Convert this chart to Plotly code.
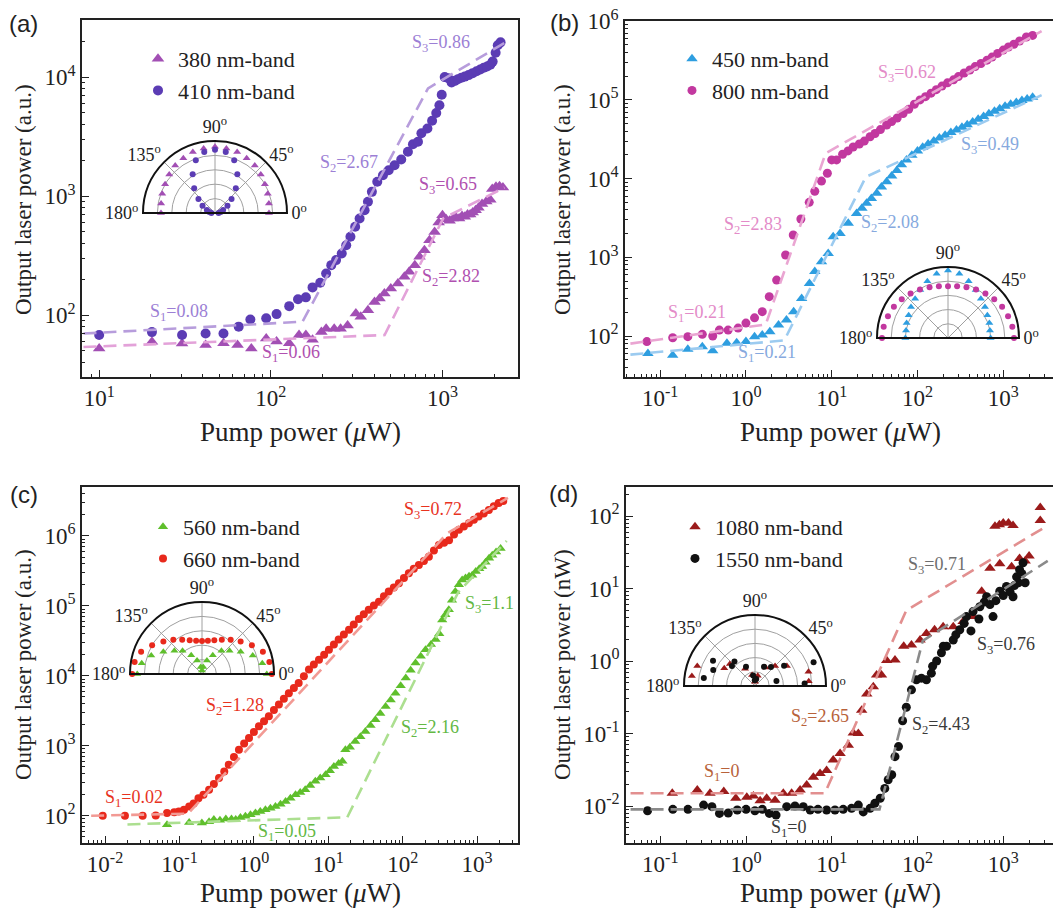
import plotly.graph_objects as go

W, H = 1053, 916
SERIF = "Liberation Serif, Times New Roman, serif"
SANS = "Liberation Sans, Arial, sans-serif"

# ---------------- (a) data ----------------
a_380 = [(10,52.5),(20.3,59.7),(30.4,57.8),(41.7,56),(53,58),(64,56),(77,52.5),(94,63.7),(108,60),(128,58),
         (146,68),(160,68),(175,62),(197,72),(210,77),(234,77),(255,77),(280,82),(313,103),(334,97),(368,110),
         (402,129),(430,138),(459,152),(500,167),(550,184),(600,210),(640,231),(690,263),(735,310),(785,351),
         (840,426),(900,500),(950,600),(1000,690),(1050,640),(1100,620),(1150,650),(1200,660),(1250,650),
         (1300,680),(1350,670),(1400,700),(1450,700),(1500,730),(1560,760),(1620,800),(1700,860),(1800,900),
         (1900,930),(1950,1150),(2050,1200),(2150,1210),(2250,1180)]
a_410 = [(10,68),(20.3,72),(30.4,68),(41.7,70),(53,70),(65,80),(76,92),(94,94),(108,102),(128,119),(144,136),
         (160,141),(175,171),(194,187),(210,224),(225,263),(240,290),(259,330),(275,387),(291,455),(310,552),
         (329,649),(352,762),(368,896),(388,1086),(417,1320),(450,1500),(486,1650),(526,1820),(575,2030),
         (629,2360),(673,2730),(720,2860),(754,3370),(817,3700),(870,4300),(920,5000),(960,5800),(990,7100),
         (1030,10000),(1080,9800),(1130,9000),(1180,9300),(1230,9600),(1290,9900),(1350,10100),(1420,10400),
         (1500,10800),(1580,11200),(1660,11600),(1740,12000),(1820,12300),(1900,12700),(1960,13500),
         (2040,16000),(2100,18500),(2180,19600)]
a_fit380_x = [8.1, 460, 1010, 2300]
a_fit380_y = [54, 68, 650, 1180]
a_fit410_x = [8.1, 153, 824, 2300]
a_fit410_y = [70, 88, 8040, 19400]

# ---------------- (b) data ----------------
b_450 = [(0.072,60),(0.14,57),(0.21,68),(0.31,73),(0.41,65),(0.6,81),(0.78,82),(1.0,85),(1.26,98),(1.55,103),
         (1.9,113),(2.4,138),(2.97,160),(3.6,204),(4.46,300),(5.5,466),(6.35,660),(7.6,880),(9.1,1120),
         (10.4,1830),(12.5,2000),(15.6,2700),(19.5,3600),(22.5,4200),(25.5,4850),(29,5600),(33.5,6500),
         (38,7800),(43.7,9100),(50,10800),(57.4,12700),(65,15000),(74.5,17300),(86,19800),(100,22500),
         (115,25000),(133,27500),(155,30000),(180,32800),(210,35500),(245,38500),(285,41500),(330,45000),
         (380,48500),(440,52500),(510,57000),(590,61500),(680,66500),(790,72000),(910,77500),(1050,83000),
         (1220,88000),(1420,93000),(1650,98000),(1900,103000),(2200,108000)]
b_800 = [(0.07,85),(0.14,95),(0.21,98),(0.31,105),(0.41,100),(0.49,119),(0.62,119),(0.81,126),(1.0,146),
         (1.26,170),(1.55,204),(1.87,316),(2.28,513),(2.9,1070),(3.56,1920),(4.37,3070),(5.47,5000),
         (6.35,6900),(7.6,9300),(8.9,11700),(10.0,17300),(11.4,17300),(13.4,20400),(15.5,22500),(17.8,25200),
         (21,27500),(24,30000),(28,34000),(32,37500),(37,42000),(43.7,48000),(50,53000),(58,59000),(68,67000),
         (79,76000),(92,88000),(107,100000),(124,110000),(144,122000),(166,135000),(193,150000),(224,165000),
         (263,180000),(300,198000),(350,220000),(408,240000),(470,265000),(550,290000),(646,320000),
         (740,350000),(860,390000),(1000,430000),(1150,470000),(1330,510000),(1550,560000),(1860,630000),
         (2200,660000)]
b_fit450_x = [0.045, 2.8, 25, 2800]
b_fit450_y = [58, 88, 10500, 115000]
b_fit800_x = [0.045, 1.7, 8.5, 2800]
b_fit800_y = [80, 140, 21000, 750000]

# ---------------- (c) data ----------------
c_560 = [(0.068,74),(0.135,80),(0.2,79),(0.25,82),(0.29,88),(0.35,86),(0.42,90),(0.5,90),(0.57,88),(0.66,94),
         (0.77,98),(0.9,103),(1.05,109),(1.22,115),(1.43,122),(1.67,128),(1.95,135),(2.28,146),(2.67,160),
         (3.1,178),(3.63,200),(4.2,215),(4.9,235),(5.7,270),(6.7,310),(7.8,345),(9.2,385),(10.5,440),
         (11.9,505),(13.8,560),(15.5,600),(17,875),(19.5,950),(23,1150),(27,1350),(31.5,1600),(37,1950),
         (43,2350),(50,2900),(59,3650),(69,4500),(80,5650),(94,7200),(110,9300),(128,12000),(149,15200),
         (175,19000),(203,23700),(240,28000),(277,33000),(310,40000),(340,63000),(375,75000),(417,88000),
         (460,120000),(510,160000),(570,200000),(630,235000),(700,250000),(780,265000),(860,275000),
         (960,310000),(1070,340000),(1170,365000),(1300,420000),(1450,480000),(1600,530000),(1800,590000),
         (2070,660000)]
c_660 = [(0.0093,100),(0.0185,100),(0.032,100),(0.048,101),(0.068,109),(0.085,112),(0.098,115),(0.115,122),
         (0.135,135),(0.155,150),(0.18,178),(0.21,200),(0.25,235),(0.29,285),(0.34,345),(0.4,430),(0.46,537),
         (0.54,690),(0.63,875),(0.74,1080),(0.86,1290),(1.0,1580),(1.17,1900),(1.37,2250),(1.59,2650),
         (1.86,3250),(2.17,3880),(2.53,4700),(2.95,5650),(3.45,6700),(4.0,7900),(4.7,9900),(5.5,12300),
         (6.4,14500),(7.5,17000),(8.8,20000),(10.2,23700),(11.9,28000),(13.8,33000),(16.2,39000),(19,45500),
         (22,54000),(25.8,65000),(30,76000),(35,88000),(41,101000),(48,115000),(56,137000),(65,160000),
         (76,183000),(89,210000),(104,250000),(121,293000),(141,340000),(165,385000),(193,440000),
         (225,505000),(263,620000),(307,740000),(360,800000),(420,870000),(490,1050000),(570,1230000),
         (665,1370000),(775,1520000),(905,1700000),(1050,1900000),(1230,2100000),(1440,2350000),
         (1680,2650000),(1950,2950000),(2250,3150000)]
c_fit560_x = [0.02, 18, 560, 2500]
c_fit560_y = [75, 95, 158000, 850000]
c_fit660_x = [0.0065, 0.13, 400, 2600]
c_fit660_y = [100, 107, 1100000, 3500000]

# ---------------- (d) data ----------------
d_1080 = [(0.138,0.015),(0.27,0.0166),(0.38,0.015),(0.55,0.0158),(0.76,0.0128),(1.02,0.0132),(1.22,0.0137),
          (1.46,0.0118),(1.74,0.0128),(2.18,0.012),(2.72,0.015),(3.4,0.015),(4.27,0.0166),(5.1,0.0195),
          (6.1,0.025),(7.3,0.028),(8.7,0.031),(10.4,0.043),(12.5,0.053),(15.6,0.069),(17.8,0.102),(20.4,0.1),
          (22.3,0.21),(25.6,0.35),(30.5,0.44),(33.3,0.64),(38,0.64),(43.7,1.02),(54.6,1.03),(69,1.6),(85,1.66),
          (107,1.95),(127,2.4),(158,2.7),(199,2.97),(261,2.97),(340,3.5),(444,4.1),(560,9.2),(700,19),
          (800,72),(900,76),(1000,80),(1150,80),(1300,74),(910,22),(1250,20),(1550,26),(1800,24),(2000,28),
          (2700,131),(2700,87)]
d_1550 = [(0.071,0.0086),(0.14,0.009),(0.21,0.009),(0.32,0.0103),(0.4,0.0098),(0.49,0.0079),(0.62,0.008),
          (0.79,0.0088),(1.0,0.009),(1.27,0.0086),(1.55,0.009),(1.87,0.0079),(2.24,0.0075),(2.98,0.0098),
          (3.72,0.01),(4.65,0.0098),(5.6,0.0088),(6.9,0.009),(8.7,0.0088),(10.9,0.0088),(13.6,0.009),
          (17,0.0093),(20.4,0.0103),(23.3,0.0083),(28,0.0093),(31.8,0.0109),(36.7,0.0128),(41.5,0.0175),
          (45.5,0.023),(50,0.027),(54.6,0.048),(60,0.066),(67,0.15),(74,0.23),(85,0.4),(97,0.55),(111,0.58),
          (127,0.55),(145,0.68),(150,0.85),(167,1.0),(190,1.3),(200,1.6),(218,1.6),(261,1.95),(280,2.3),
          (311,2.7),(350,3.3),(372,4.1),(420,2.6),(444,4.8),(520,3.8),(533,5.6),(600,6.5),(640,7.7),(700,6),
          (760,4.1),(820,6.8),(910,9.2),(1000,8),(1090,10.7),(1200,9),(1300,7.7),(1350,11),(1430,14.5),
          (1500,12),(1550,18.2),(1650,16),(1700,22.6),(1800,12)]
d_fit1080_x = [0.045, 8.3, 74, 3300]
d_fit1080_y = [0.015, 0.015, 5.0, 74]
d_fit1550_x = [0.045, 36, 115, 3300]
d_fit1550_y = [0.009, 0.009, 1.9, 24]

# ---------------- polar insets (angle deg, relative intensity) ----------------
pol_theta = [0, 10, 20, 30, 40, 50, 60, 70, 80, 90, 100, 110, 120, 130, 140, 150, 160, 170, 180]
pa_380 = [0.75, 0.76, 0.78, 0.8, 0.83, 0.86, 0.88, 0.9, 0.91, 0.92, 0.91, 0.9, 0.88, 0.86, 0.83, 0.8, 0.78, 0.76, 0.75]
pa_410 = [0.05, 0.08, 0.12, 0.2, 0.3, 0.45, 0.62, 0.78, 0.86, 0.88, 0.86, 0.78, 0.62, 0.45, 0.3, 0.2, 0.12, 0.08, 0.05]
pb_450 = [0.6, 0.6, 0.62, 0.64, 0.68, 0.72, 0.78, 0.85, 0.92, 0.95, 0.92, 0.85, 0.78, 0.72, 0.68, 0.64, 0.62, 0.6, 0.6]
pb_800 = [0.93, 0.92, 0.9, 0.88, 0.85, 0.82, 0.79, 0.76, 0.74, 0.73, 0.74, 0.76, 0.79, 0.82, 0.85, 0.88, 0.9, 0.92, 0.93]
pc_560 = [0.9, 0.85, 0.75, 0.62, 0.5, 0.42, 0.3, 0.2, 0.1, 0.05, 0.1, 0.2, 0.3, 0.42, 0.5, 0.62, 0.75, 0.85, 0.9]
pc_660 = [0.97, 0.95, 0.9, 0.8, 0.7, 0.62, 0.55, 0.5, 0.47, 0.46, 0.47, 0.5, 0.55, 0.62, 0.7, 0.8, 0.9, 0.95, 0.97]
pd_1080_t = [5, 15, 32, 45, 60, 75, 90, 105, 120, 139, 150, 161, 171]
pd_1080_r = [0.76, 0.78, 0.53, 0.4, 0.3, 0.15, 0.06, 0.16, 0.28, 0.47, 0.5, 0.86, 0.9]
pd_1550_t = [3, 13, 22, 35, 50, 65, 80, 92, 100, 115, 130, 139, 149, 159, 171]
pd_1550_r = [0.7, 0.31, 0.89, 0.5, 0.35, 0.3, 0.1, 0.08, 0.15, 0.3, 0.45, 0.43, 0.69, 0.63, 0.73]
pol_ticks = [0, 45, 90, 135, 180]
pol_labels = ["0<sup>o</sup>", "45<sup>o</sup>", "90<sup>o</sup>", "135<sup>o</sup>", "180<sup>o</sup>"]

# ---------------- tick labels ----------------
def dec_label(p):
    return "10<sup>%d</sup>" % p

a_xt = [1, 2, 3]; a_yt = [2, 3, 4]
b_xt = [-1, 0, 1, 2, 3]; b_yt = [2, 3, 4, 5, 6]
c_xt = [-2, -1, 0, 1, 2, 3]; c_yt = [2, 3, 4, 5, 6]
d_xt = [-1, 0, 1, 2, 3]; d_yt = [-2, -1, 0, 1, 2]

fig = go.Figure()


def P(px, py):
    return px / W, 1 - py / H


def series(pairs, name, color, symbol, size, n):
    xs, ys = zip(*pairs)
    sfx = "" if n == 1 else str(n)
    fig.add_trace(go.Scatter(x=list(xs), y=list(ys), mode="markers", name=name,
                             marker=dict(color=color, symbol=symbol, size=size, line=dict(width=0)),
                             xaxis="x" + sfx, yaxis="y" + sfx, legend="legend" + sfx))


def fit(xs, ys, color, n):
    sfx = "" if n == 1 else str(n)
    fig.add_trace(go.Scatter(x=xs, y=ys, mode="lines", showlegend=False,
                             line=dict(color=color, width=2.6, dash="13px,7px"),
                             xaxis="x" + sfx, yaxis="y" + sfx))


def polar(theta, r, color, symbol, size, n):
    sfx = "" if n == 1 else str(n)
    fig.add_trace(go.Scatterpolar(theta=theta, r=r, mode="markers", showlegend=False,
                                  marker=dict(color=color, symbol=symbol, size=size, line=dict(width=0)),
                                  subplot="polar" + sfx))


# (a)
series(a_380, "380 nm-band", "#a24fb4", "triangle-up", 11, 1)
series(a_410, "410 nm-band", "#5b3cb4", "circle", 10, 1)
fit(a_fit380_x, a_fit380_y, "#e3a2d9", 1)
fit(a_fit410_x, a_fit410_y, "#b79ddc", 1)
# (b)
series(b_450, "450 nm-band", "#2e9ee0", "triangle-up", 10, 2)
series(b_800, "800 nm-band", "#c2389f", "circle", 9, 2)
fit(b_fit450_x, b_fit450_y, "#9ccbf0", 2)
fit(b_fit800_x, b_fit800_y, "#eaa5d2", 2)
# (c)
series(c_560, "560 nm-band", "#5fbf2c", "triangle-up", 9, 3)
series(c_660, "660 nm-band", "#e8291c", "circle", 8, 3)
fit(c_fit560_x, c_fit560_y, "#acdf90", 3)
fit(c_fit660_x, c_fit660_y, "#f29a94", 3)
# (d)
series(d_1080, "1080 nm-band", "#9b1b1b", "triangle-up", 10, 4)
series(d_1550, "1550 nm-band", "#111111", "circle", 9, 4)
fit(d_fit1080_x, d_fit1080_y, "#e28f8f", 4)
fit(d_fit1550_x, d_fit1550_y, "#8a8a8a", 4)

polar(pol_theta, pa_380, "#a24fb4", "triangle-up", 7, 1)
polar(pol_theta, pa_410, "#5b3cb4", "circle", 6, 1)
polar(pol_theta, pb_450, "#2e9ee0", "triangle-up", 7, 2)
polar(pol_theta, pb_800, "#c2389f", "circle", 6, 2)
polar(pol_theta, pc_560, "#5fbf2c", "triangle-up", 7, 3)
polar(pol_theta, pc_660, "#e8291c", "circle", 6, 3)
polar(pd_1080_t, pd_1080_r, "#9b1b1b", "triangle-up", 7, 4)
polar(pd_1550_t, pd_1550_r, "#111111", "circle", 6, 4)


def minor_vals(lo, hi):
    out = []
    for d in range(int(lo) - 1, int(hi) + 2):
        for k in range(2, 10):
            out.append(k * 10.0 ** d)
    return out


def log_axis(dom, rng, decs, anchor, mirror):
    return dict(type="log", domain=dom, range=rng, anchor=anchor, automargin=False,
                ticklabeloverflow="allow",
                tickmode="array", tickvals=[10.0 ** p for p in decs], ticktext=[dec_label(p) for p in decs],
                ticks="inside", ticklen=7, tickwidth=1.4, tickcolor="#222",
                minor=dict(tickmode="array", tickvals=minor_vals(rng[0], rng[1]), ticks="inside",
                           ticklen=3.5, tickwidth=1, tickcolor="#222", showgrid=False),
                showline=True, linecolor="#222", linewidth=1.5, mirror=mirror,
                showgrid=False, zeroline=False,
                tickfont=dict(family=SERIF, size=23, color="#222"))


def dom_x(l, r):
    return [max(l / W, 0.0), min(r / W, 1.0)]


def dom_y(top, bot):
    return [1 - bot / H, min(1 - top / H, 1.0)]


layout = dict(width=W, height=H, margin=dict(l=0, r=0, t=0, b=0, pad=0, autoexpand=False),
              paper_bgcolor="white", plot_bgcolor="white", showlegend=True)

layout["xaxis"] = log_axis(dom_x(82, 518), [0.90, 3.44], a_xt, "y", True)
layout["yaxis"] = log_axis(dom_y(20, 377), [1.48, 4.48], a_yt, "x", True)
layout["xaxis2"] = log_axis(dom_x(625, 1053), [-1.41, 3.58], b_xt, "y2", True)
layout["yaxis2"] = log_axis(dom_y(21, 377), [1.479, 6.003], b_yt, "x2", False)
layout["xaxis3"] = log_axis(dom_x(82, 518), [-2.31, 3.55], c_xt, "y3", True)
layout["yaxis3"] = log_axis(dom_y(487, 843), [1.61, 6.7], c_yt, "x3", True)
layout["xaxis4"] = log_axis(dom_x(626, 1053), [-1.40, 3.58], d_xt, "y4", True)
layout["yaxis4"] = log_axis(dom_y(487, 843), [-2.51, 2.4], d_yt, "x4", False)


def polar_layout(cx, cy, r):
    x0, y0 = P(cx - r, cy)
    x1, y1 = P(cx + r, cy - r)
    return dict(domain=dict(x=[x0, x1], y=[y0, y1]), sector=[0, 180], bgcolor="white",
                radialaxis=dict(range=[0, 1], tickvals=[0.2, 0.4, 0.6, 0.8], showticklabels=False, ticks="",
                                showline=False, gridcolor="#a0a0a0", gridwidth=1),
                angularaxis=dict(tickmode="array", tickvals=pol_ticks, ticktext=pol_labels, showline=True,
                                 linecolor="#111", linewidth=2, gridcolor="#a0a0a0", ticks="",
                                 direction="counterclockwise", rotation=0,
                                 tickfont=dict(family=SERIF, size=18, color="#222")))


layout["polar"] = polar_layout(215, 213, 72)
layout["polar2"] = polar_layout(948, 338, 71)
layout["polar3"] = polar_layout(202, 674, 72)
layout["polar4"] = polar_layout(755, 686, 71)


def legend_at(text_left, row1):
    x, y = P(text_left - 40, row1 - 22)
    return dict(x=x, y=y, xanchor="left", yanchor="top", bgcolor="rgba(0,0,0,0)", borderwidth=0,
                font=dict(family=SERIF, size=22, color="#222"), tracegroupgap=0)


layout["legend"] = legend_at(178, 60)
layout["legend2"] = legend_at(712, 60)
layout["legend3"] = legend_at(183, 528)
layout["legend4"] = legend_at(715, 528)

ann = []


def text(px, py, s, color, size, family=SERIF, angle=0):
    x, y = P(px, py)
    ann.append(dict(x=x, y=y, xref="paper", yref="paper", text=s, showarrow=False, textangle=angle,
                    xanchor="center", yanchor="middle", font=dict(color=color, size=size, family=family)))


# panel labels
text(23, 24, "(a)", "#222", 24, SANS)
text(564, 22, "(b)", "#222", 24, SANS)
text(24, 494, "(c)", "#222", 24, SANS)
text(563, 493, "(d)", "#222", 24, SANS)

# axis titles
XT = "Pump power (<i>μ</i>W)"
for (px, py) in [(300, 432), (840, 432), (300, 893), (840, 893)]:
    text(px, py, XT, "#222", 27)
text(23, 200, "Output laser power (a.u.)", "#222", 23, angle=-90)
text(562, 200, "Output laser power (a.u.)", "#222", 23, angle=-90)
text(23, 665, "Output laser power (a.u.)", "#222", 23, angle=-90)
text(562, 665, "Output laser power (nW)", "#222", 23, angle=-90)

# slope labels
S = 18
text(441, 43, "S<sub>3</sub>=0.86", "#9c7fd5", S)
text(349, 163, "S<sub>2</sub>=2.67", "#9c7fd5", S)
text(179, 312, "S<sub>1</sub>=0.08", "#9c7fd5", S)
text(448, 185, "S<sub>3</sub>=0.65", "#b050b0", S)
text(451, 277, "S<sub>2</sub>=2.82", "#b050b0", S)
text(291, 353, "S<sub>1</sub>=0.06", "#b050b0", S)

text(907, 73, "S<sub>3</sub>=0.62", "#e38bc8", S)
text(753, 225, "S<sub>2</sub>=2.83", "#e38bc8", S)
text(697, 313, "S<sub>1</sub>=0.21", "#e38bc8", S)
text(990, 145, "S<sub>3</sub>=0.49", "#86a9de", S)
text(890, 223, "S<sub>2</sub>=2.08", "#86a9de", S)
text(767, 353, "S<sub>1</sub>=0.21", "#86a9de", S)

text(433, 510, "S<sub>3</sub>=0.72", "#e8331f", S)
text(235, 706, "S<sub>2</sub>=1.28", "#e8331f", S)
text(134, 798, "S<sub>1</sub>=0.02", "#e8331f", S)
text(489, 604, "S<sub>3</sub>=1.1", "#63b844", S)
text(430, 728, "S<sub>2</sub>=2.16", "#63b844", S)
text(287, 832, "S<sub>1</sub>=0.05", "#63b844", S)

text(937, 565, "S<sub>3</sub>=0.71", "#6e6e6e", S)
text(820, 717, "S<sub>2</sub>=2.65", "#b8623a", S)
text(722, 772, "S<sub>1</sub>=0", "#b8623a", S)
text(1006, 645, "S<sub>3</sub>=0.76", "#3a3a3a", S)
text(941, 725, "S<sub>2</sub>=4.43", "#3a3a3a", S)
text(788, 828, "S<sub>1</sub>=0", "#3a3a3a", S)

layout["annotations"] = ann
fig.update_layout(**layout)
# remove the page's default body margin so the figure sits at the window's top-left corner
fig.write_html("out.html", config={"displayModeBar": False},
               post_script="document.body.style.margin='0px';")
